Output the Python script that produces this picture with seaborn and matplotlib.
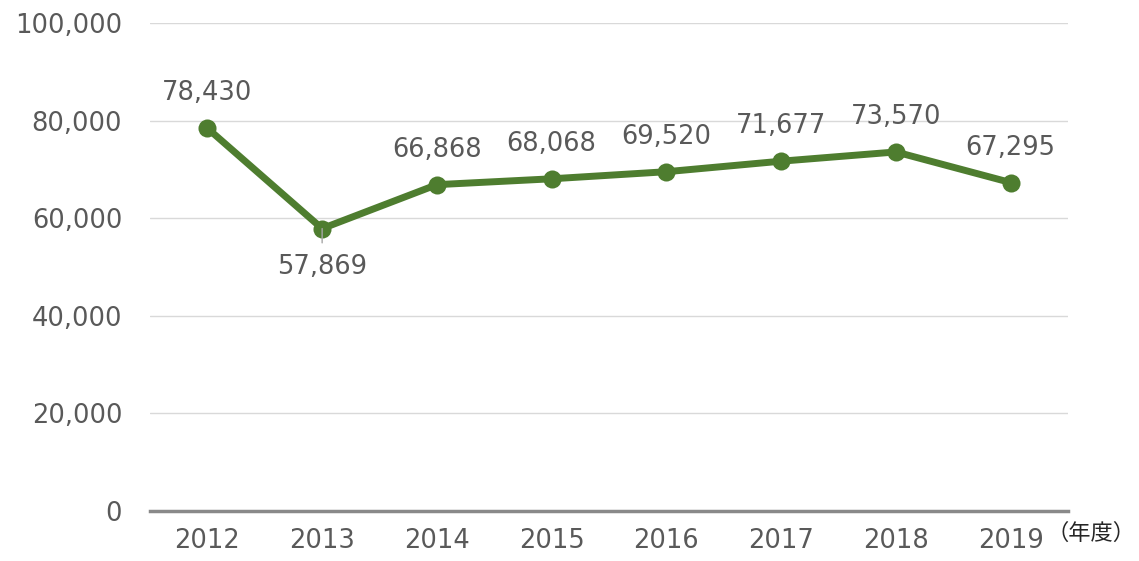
import matplotlib
matplotlib.use("Agg")
import matplotlib.pyplot as plt
import seaborn as sns
import pandas as pd
from matplotlib.ticker import FuncFormatter

years = ["2012", "2013", "2014", "2015", "2016", "2017", "2018", "2019"]
values = [78430, 57869, 66868, 68068, 69520, 71677, 73570, 67295]
yticks = [0, 20000, 40000, 60000, 80000, 100000]
unit_label = "（年度）"

sns.set_theme(style="white")
plt.rcParams['font.family'] = ['DejaVu Sans', 'Noto Sans CJK JP']

df = pd.DataFrame({"year": years, "value": values})
fig = plt.figure(figsize=(11.39, 5.61), dpi=100)
ax = fig.add_axes([0.1317, 0.0891, 0.806, 0.87])

green = "#4E7D2F"
txt = "#595959"
fs = 18.5

sns.lineplot(data=df, x="year", y="value", ax=ax, color=green, linewidth=5,
             marker="o", markersize=13, markeredgewidth=0, sort=False)

ax.set_xlim(-0.5, len(years) - 0.5)
ax.set_ylim(0, 100000)
ax.set_yticks(yticks)
ax.yaxis.set_major_formatter(FuncFormatter(lambda v, p: f"{int(v):,}"))
ax.grid(axis="y", color="#d9d9d9", linewidth=1)
ax.set_axisbelow(True)
for s in ["top", "right", "left"]:
    ax.spines[s].set_visible(False)
ax.spines["bottom"].set_color("#898989")
ax.spines["bottom"].set_linewidth(2.5)
ax.tick_params(axis="both", length=0, labelsize=fs, labelcolor=txt)
ax.tick_params(axis="x", pad=12)
ax.tick_params(axis="y", pad=20)
ax.set_xlabel("")
ax.set_ylabel("")

for i, v in enumerate(values):
    if i == 1:
        ax.annotate(f"{v:,}", xy=(i, v), xytext=(0, -28), textcoords="offset points",
                    ha="center", va="center", fontsize=fs, color=txt,
                    arrowprops=dict(arrowstyle="-", color="#a6a6a6", lw=1,
                                    shrinkA=6, shrinkB=0))
    else:
        ax.annotate(f"{v:,}", xy=(i, v), xytext=(0, 25), textcoords="offset points",
                    ha="center", va="center", fontsize=fs, color=txt)

ax.text(1047 / 1139, 1 - 533 / 561, unit_label, transform=fig.transFigure,
        ha="left", va="center", fontsize=16, color="#262626",
        family=['Noto Sans CJK JP', 'DejaVu Sans'])

fig.savefig("out.png", dpi=100)
